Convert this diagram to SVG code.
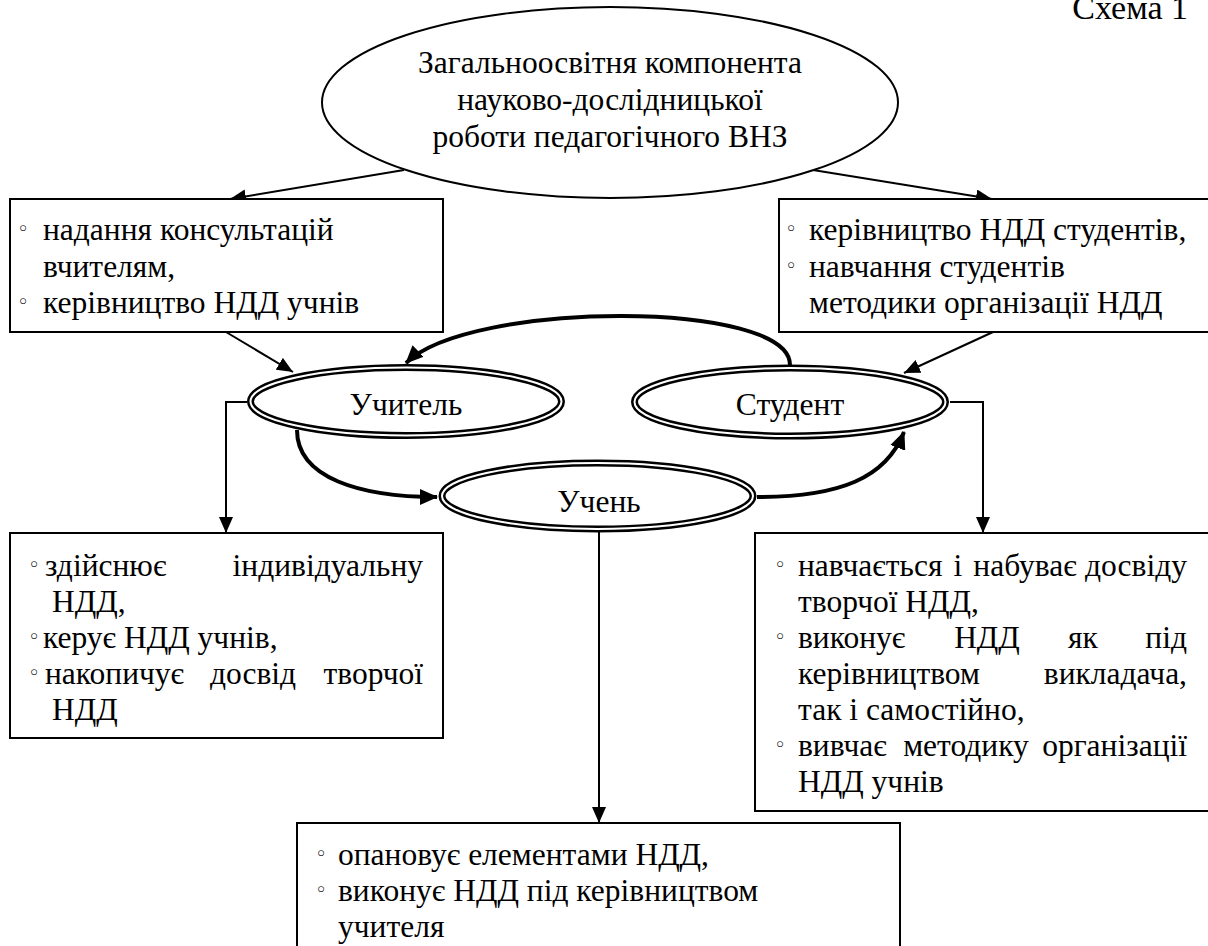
<svg xmlns="http://www.w3.org/2000/svg" width="1208" height="946" viewBox="0 0 1208 946">
<style>
text{font-family:"Liberation Serif","DejaVu Serif",serif;font-size:31.5px;fill:#000}
.b{font-family:"DejaVu Sans",sans-serif;font-size:21px}
.box{fill:#fff;stroke:#000;stroke-width:2}
.ell{fill:#fff;stroke:#000;stroke-width:2}
.dbo{fill:#fff;stroke:#000;stroke-width:7}
.dbi{fill:none;stroke:#fff;stroke-width:2}
.thin{fill:none;stroke:#000;stroke-width:2;marker-end:url(#ah)}
.thick{fill:none;stroke:#000;stroke-width:4;marker-end:url(#ahb)}
</style>
<defs>
<marker id="ah" markerUnits="userSpaceOnUse" markerWidth="16" markerHeight="14" refX="16" refY="7" orient="auto"><path d="M0,0 L16,7 L0,14 z" fill="#000"/></marker>
<marker id="ahb" markerUnits="userSpaceOnUse" markerWidth="18" markerHeight="16" refX="17" refY="8" orient="auto"><path d="M0,0 L18,8 L0,16 z" fill="#000"/></marker>
</defs>
<rect width="1208" height="946" fill="#fff"/>
<text x="1188" y="19" text-anchor="end" style="font-size:34px">Схема 1</text>

<g id="connectors">
<line class="thin" x1="404" y1="170" x2="230" y2="199"/>
<line class="thin" x1="813" y1="170" x2="992" y2="199"/>
<line class="thin" x1="226" y1="332" x2="293" y2="372"/>
<line class="thin" x1="993" y1="332" x2="904" y2="373"/>
<polyline class="thin" points="247,402 226,402 226,533"/>
<polyline class="thin" points="950,402 983,402 983,533"/>
<line class="thin" x1="599" y1="532" x2="599" y2="823"/>
<path class="thick" d="M790,365 C790,300 470,300 406,363"/>
<path class="thick" d="M297,430 C297,478 360,497 437,497"/>
<path class="thick" d="M757,497 C840,497 886,478 904,432"/>
</g>

<g id="main">
<ellipse class="ell" cx="610" cy="102.5" rx="288" ry="95.5"/>
<text text-anchor="middle"><tspan x="610" y="73">Загальноосвітня компонента</tspan><tspan x="610" y="110">науково-дослідницької</tspan><tspan x="610" y="147">роботи педагогічного ВНЗ</tspan></text>
</g>

<g id="box-tl">
<rect class="box" x="10" y="199" width="433" height="133"/>
<text class="b" x="17" y="236">◦</text>
<text x="43" y="240">надання консультацій</text>
<text x="43" y="276.5">вчителям,</text>
<text class="b" x="17" y="309">◦</text>
<text x="43" y="313">керівництво НДД учнів</text>
</g>

<g id="box-tr">
<rect class="box" x="779" y="199" width="440" height="133"/>
<text class="b" x="785" y="236">◦</text>
<text x="809" y="240">керівництво НДД студентів,</text>
<text class="b" x="785" y="272.5">◦</text>
<text x="809" y="276.5">навчання студентів</text>
<text x="809" y="313">методики організації НДД</text>
</g>

<g id="uchytel">
<ellipse class="dbo" cx="406" cy="401.5" rx="155.5" ry="34"/>
<ellipse class="dbi" cx="406" cy="401.5" rx="155.5" ry="34"/>
<text x="406" y="415" text-anchor="middle">Учитель</text>
</g>

<g id="student">
<ellipse class="dbo" cx="790" cy="402" rx="155.5" ry="34"/>
<ellipse class="dbi" cx="790" cy="402" rx="155.5" ry="34"/>
<text x="790" y="415" text-anchor="middle">Студент</text>
</g>

<g id="uchen">
<ellipse class="dbo" cx="597.5" cy="496" rx="155.5" ry="33"/>
<ellipse class="dbi" cx="597.5" cy="496" rx="155.5" ry="33"/>
<text x="599" y="512" text-anchor="middle">Учень</text>
</g>

<g id="box-bl">
<rect class="box" x="10" y="533" width="433" height="205"/>
<text class="b" x="28" y="572">◦</text>
<text y="576"><tspan x="45">здійснює</tspan><tspan x="423" text-anchor="end">індивідуальну</tspan></text>
<text x="52" y="612">НДД,</text>
<text class="b" x="28" y="644">◦</text>
<text x="43" y="648">керує НДД учнів,</text>
<text class="b" x="28" y="680">◦</text>
<text y="684"><tspan x="45">накопичує</tspan><tspan x="253" text-anchor="middle">досвід</tspan><tspan x="423" text-anchor="end">творчої</tspan></text>
<text x="52" y="720">НДД</text>
</g>

<g id="box-br">
<rect class="box" x="755" y="533" width="470" height="278"/>
<text class="b" x="774" y="572">◦</text>
<text y="576"><tspan x="798">навчається</tspan><tspan x="958" text-anchor="middle">і</tspan><tspan x="1025" text-anchor="middle">набуває</tspan><tspan x="1187" text-anchor="end">досвіду</tspan></text>
<text x="798" y="612">творчої НДД,</text>
<text class="b" x="774" y="644">◦</text>
<text y="648"><tspan x="798">виконує</tspan><tspan x="987" text-anchor="middle">НДД</tspan><tspan x="1083" text-anchor="middle">як</tspan><tspan x="1187" text-anchor="end">під</tspan></text>
<text y="684"><tspan x="798">керівництвом</tspan><tspan x="1187" text-anchor="end">викладача,</tspan></text>
<text x="798" y="720">так і самостійно,</text>
<text class="b" x="774" y="752">◦</text>
<text y="756"><tspan x="798">вивчає</tspan><tspan x="966" text-anchor="middle">методику</tspan><tspan x="1187" text-anchor="end">організації</tspan></text>
<text x="798" y="792">НДД учнів</text>
</g>

<g id="box-bottom">
<rect class="box" x="297" y="823" width="603" height="140"/>
<text class="b" x="315" y="861">◦</text>
<text x="338" y="865">опановує елементами НДД,</text>
<text class="b" x="315" y="897">◦</text>
<text x="338" y="901">виконує НДД під керівництвом</text>
<text x="338" y="937">учителя</text>
</g>
</svg>
